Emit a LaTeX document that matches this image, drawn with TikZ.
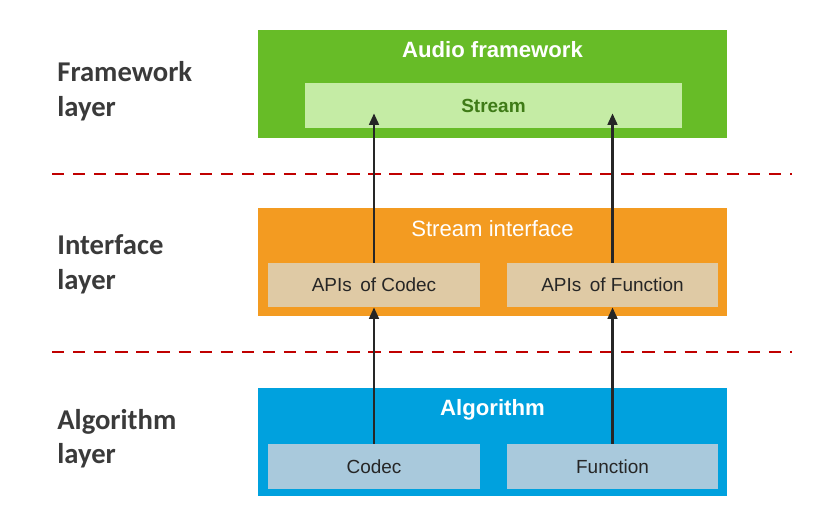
\documentclass[tikz,border=0pt]{standalone}
\usepackage{fontspec}
\setmainfont{Liberation Sans}
\newfontfamily\layerfont{Carlito}
\usepackage{tikz}
\usetikzlibrary{calc}
\usetikzlibrary{arrows.meta,positioning}
\usepackage{xcolor}
\definecolor{framegreen}{RGB}{103,188,39}
\definecolor{streamgreen}{RGB}{197,236,165}
\definecolor{streamtext}{RGB}{63,123,23}
\definecolor{ifaceorange}{RGB}{243,155,33}
\definecolor{apibrown}{RGB}{223,202,165}
\definecolor{algblue}{RGB}{0,161,222}
\definecolor{algbox}{RGB}{169,201,220}
\definecolor{sepred}{RGB}{192,0,0}
\definecolor{txtgray}{RGB}{38,38,38}
\definecolor{lblgray}{RGB}{58,58,58}
\newcommand{\bigtxt}{\fontsize{12.6}{15}\selectfont}
\newcommand{\smtxt}{\fontsize{10.8}{13}\selectfont}

\begin{document}
\begin{tikzpicture}[
    layerbox/.style={minimum width=9.38cm,minimum height=2.16cm,inner sep=0pt},
    subbox/.style={minimum width=4.23cm,minimum height=0.88cm,inner sep=0pt,
      font=\smtxt,text=txtgray},
    titletxt/.style={font=\bigtxt,text=white,inner sep=0pt},
    layerlbl/.style={font=\layerfont\fontsize{16.3}{19.6}\selectfont\bfseries,
      text=lblgray,align=left,anchor=west,inner sep=0pt},
    sep/.style={sepred,line width=0.9pt,dash pattern=on 7pt off 5pt},
    up/.style={-{Triangle[length=6.5pt,width=5.5pt]},line width=1.3pt,txtgray}]
  \useasboundingbox (0,0) rectangle (16.26,-10.3);
  % framework layer
  \node[layerbox,fill=framegreen] (fw) at (9.85,-1.68) {};
  \node[titletxt,font=\bigtxt\bfseries] (fwtitle) at (9.85,-1.0) {Audio framework};
  \node[minimum width=7.54cm,minimum height=0.9cm,inner sep=0pt,fill=streamgreen,
    font=\smtxt\bfseries,text=streamtext] (stream) at (9.87,-2.11) {Stream};
  % interface layer
  \node[layerbox,fill=ifaceorange] (iface) at (9.85,-5.24) {};
  \node[titletxt] (ifacetitle) at (9.85,-4.58) {Stream interface};
  \node[subbox,fill=apibrown] (apicodec) at (7.48,-5.70) {APIs\, of Codec};
  \node[subbox,fill=apibrown] (apifunc) at (12.25,-5.70) {APIs\, of Function};
  % algorithm layer
  \node[layerbox,fill=algblue] (alg) at (9.85,-8.84) {};
  \node[titletxt,font=\bigtxt\bfseries] (algtitle) at (9.85,-8.19) {Algorithm};
  \node[subbox,fill=algbox,minimum height=0.9cm] (codec) at (7.48,-9.33) {Codec};
  \node[subbox,fill=algbox,minimum height=0.9cm] (func) at (12.25,-9.33) {Function};
  % layer names
  \node[layerlbl] (lblfw) at (1.14,-1.82) {Framework\\layer};
  \node[layerlbl] (lblif) at (1.14,-5.29) {Interface\\layer};
  \node[layerlbl] (lblalg) at (1.14,-8.77) {Algorithm\\layer};
  % separators
  \coordinate (sepA-l) at (1.04,-3.48);
  \coordinate (sepA-r) at (15.84,-3.48);
  \coordinate (sepB-l) at (1.04,-7.04);
  \coordinate (sepB-r) at (15.84,-7.04);
  \draw[sep] (sepA-l) -- (sepA-r);
  \draw[sep] (sepB-l) -- (sepB-r);
  % arrows
  \coordinate (tipL) at ($(apicodec.north |- stream.south)+(0,0.3)$);
  \coordinate (tipR) at ($(apifunc.north |- stream.south)+(0,0.3)$);
  \draw[up] (codec.north) -- (apicodec.south);
  \draw[up] (func.north) -- (apifunc.south);
  \draw[up] (apicodec.north) -- (tipL);
  \draw[up] (apifunc.north) -- (tipR);
\end{tikzpicture}
\end{document}
